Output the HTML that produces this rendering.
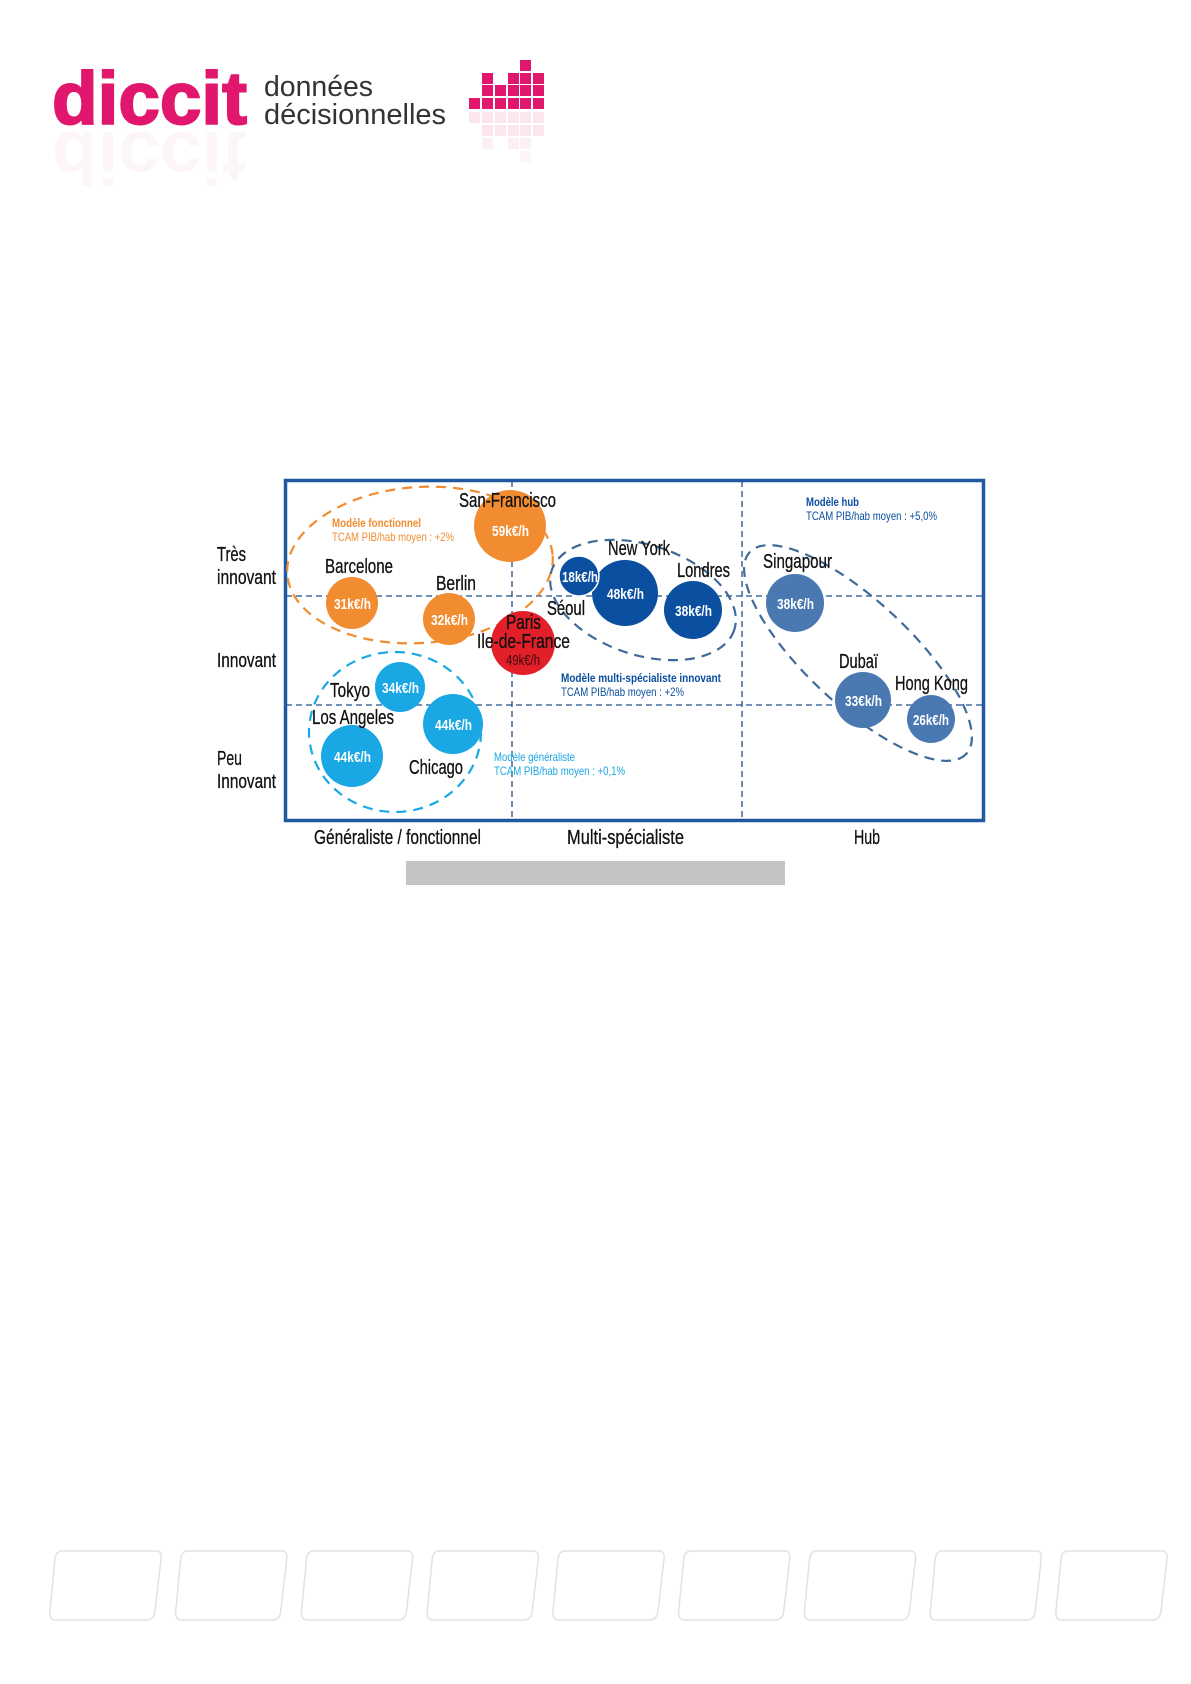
<!DOCTYPE html>
<html><head><meta charset="utf-8"><style>
html,body{margin:0;padding:0;background:#fff}
svg{display:block}
text{font-family:"Liberation Sans",sans-serif}
</style></head><body>
<svg width="1191" height="1684" viewBox="0 0 1191 1684" xmlns="http://www.w3.org/2000/svg">
<rect width="1191" height="1684" fill="#fff"/>
<!-- logo -->
<text x="52" y="124" font-weight="bold" font-size="74" fill="#e0176d" textLength="195" lengthAdjust="spacingAndGlyphs" stroke="#e0176d" stroke-width="2">diccit</text>
<text x="52" y="124" font-weight="bold" font-size="74" fill="#e0176d" opacity="0.03" transform="translate(0,256) scale(1,-1)" textLength="195" lengthAdjust="spacingAndGlyphs">diccit</text>
<text x="264" y="96" font-size="29" fill="#333" textLength="109" lengthAdjust="spacingAndGlyphs">données</text>
<text x="264" y="124" font-size="29" fill="#333" textLength="182" lengthAdjust="spacingAndGlyphs">décisionnelles</text>
<g fill="#e0176d">
<rect x="520" y="60" width="11" height="11"/>
<rect x="482" y="73" width="11" height="11"/><rect x="508" y="73" width="11" height="11"/><rect x="520" y="73" width="11" height="11"/><rect x="533" y="73" width="11" height="11"/>
<rect x="482" y="85" width="11" height="11"/><rect x="495" y="85" width="11" height="11"/><rect x="508" y="85" width="11" height="11"/><rect x="520" y="85" width="11" height="11"/><rect x="533" y="85" width="11" height="11"/>
<rect x="469" y="98" width="11" height="11"/><rect x="482" y="98" width="11" height="11"/><rect x="495" y="98" width="11" height="11"/><rect x="508" y="98" width="11" height="11"/><rect x="520" y="98" width="11" height="11"/><rect x="533" y="98" width="11" height="11"/>
</g>
<g fill="#e0176d" opacity="0.1">
<rect x="469" y="112" width="11" height="11"/><rect x="482" y="112" width="11" height="11"/><rect x="495" y="112" width="11" height="11"/><rect x="508" y="112" width="11" height="11"/><rect x="520" y="112" width="11" height="11"/><rect x="533" y="112" width="11" height="11"/>
<rect x="482" y="125" width="11" height="11"/><rect x="495" y="125" width="11" height="11"/><rect x="508" y="125" width="11" height="11"/><rect x="520" y="125" width="11" height="11"/><rect x="533" y="125" width="11" height="11"/>
<rect x="482" y="138" width="11" height="11" opacity="0.6"/><rect x="508" y="138" width="11" height="11" opacity="0.6"/><rect x="520" y="138" width="11" height="11" opacity="0.6"/><rect x="520" y="151" width="11" height="11" opacity="0.4"/>
</g>

<!-- chart grid -->
<g stroke="#1f4f8a" stroke-width="1.3" stroke-dasharray="6,4" fill="none">
<line x1="512" y1="481" x2="512" y2="820"/>
<line x1="742" y1="481" x2="742" y2="820"/>
<line x1="286" y1="596" x2="983" y2="596"/>
<line x1="286" y1="705" x2="983" y2="705"/>
</g>
<rect x="285.5" y="480.5" width="698" height="340" fill="none" stroke="#1f5aa0" stroke-width="3.5"/>

<!-- ellipses -->
<g fill="none" stroke-width="2.2" stroke-dasharray="10,7">
<ellipse cx="420" cy="565" rx="133" ry="78" transform="rotate(-4 420 565)" stroke="#f28c30"/>
<ellipse cx="395" cy="732" rx="86" ry="80" stroke="#1aa8e4"/>
<ellipse cx="643" cy="600" rx="96" ry="55" transform="rotate(18 643 600)" stroke="#3f6a99"/>
<ellipse cx="858" cy="653" rx="148" ry="52" transform="rotate(43 858 653)" stroke="#3f6a99"/>
</g>

<!-- circles -->
<circle cx="510" cy="526" r="36" fill="#f28c30"/>
<circle cx="352" cy="603" r="26" fill="#f28c30"/>
<circle cx="449" cy="619" r="26" fill="#f28c30"/>
<circle cx="523" cy="643" r="32" fill="#e3202a"/>
<circle cx="400" cy="687" r="25" fill="#1aa8e4"/>
<circle cx="453" cy="724" r="30" fill="#1aa8e4"/>
<circle cx="352" cy="756" r="31" fill="#1aa8e4"/>
<circle cx="625" cy="593" r="33" fill="#0b4fa0"/>
<circle cx="579" cy="576" r="20" fill="#0b4fa0" stroke="#fff" stroke-width="1.5"/>
<circle cx="693" cy="610" r="29" fill="#0b4fa0"/>
<circle cx="795" cy="603" r="29" fill="#4a78b0"/>
<circle cx="863" cy="700" r="28" fill="#4a78b0"/>
<circle cx="931" cy="719" r="24" fill="#4a78b0"/>

<!-- values -->
<g fill="#fff" font-size="15" font-weight="bold">
<text x="492" y="536" textLength="37" lengthAdjust="spacingAndGlyphs">59k€/h</text>
<text x="334" y="609" textLength="37" lengthAdjust="spacingAndGlyphs">31k€/h</text>
<text x="431" y="625" textLength="37" lengthAdjust="spacingAndGlyphs">32k€/h</text>
<text x="382" y="693" textLength="37" lengthAdjust="spacingAndGlyphs">34k€/h</text>
<text x="435" y="730" textLength="37" lengthAdjust="spacingAndGlyphs">44k€/h</text>
<text x="334" y="762" textLength="37" lengthAdjust="spacingAndGlyphs">44k€/h</text>
<text x="607" y="599" textLength="37" lengthAdjust="spacingAndGlyphs">48k€/h</text>
<text x="562" y="582" textLength="36" lengthAdjust="spacingAndGlyphs">18k€/h</text>
<text x="675" y="616" textLength="37" lengthAdjust="spacingAndGlyphs">38k€/h</text>
<text x="777" y="609" textLength="37" lengthAdjust="spacingAndGlyphs">38k€/h</text>
<text x="845" y="706" textLength="37" lengthAdjust="spacingAndGlyphs">33€k/h</text>
<text x="913" y="725" textLength="36" lengthAdjust="spacingAndGlyphs">26k€/h</text>
</g>
<text x="506" y="665" fill="#3a0a0a" font-size="15" textLength="34" lengthAdjust="spacingAndGlyphs">49k€/h</text>

<!-- names -->
<g fill="#111" font-size="20" stroke="#111" stroke-width="0.3">
<text x="459" y="507" textLength="97" lengthAdjust="spacingAndGlyphs">San-Francisco</text>
<text x="325" y="573" textLength="68" lengthAdjust="spacingAndGlyphs">Barcelone</text>
<text x="436" y="590" textLength="40" lengthAdjust="spacingAndGlyphs">Berlin</text>
<text x="506" y="629" textLength="35" lengthAdjust="spacingAndGlyphs">Paris</text>
<text x="477" y="648" textLength="93" lengthAdjust="spacingAndGlyphs">Ile-de-France</text>
<text x="547" y="615" textLength="38" lengthAdjust="spacingAndGlyphs">Séoul</text>
<text x="330" y="697" textLength="40" lengthAdjust="spacingAndGlyphs">Tokyo</text>
<text x="312" y="724" textLength="82" lengthAdjust="spacingAndGlyphs">Los Angeles</text>
<text x="409" y="774" textLength="54" lengthAdjust="spacingAndGlyphs">Chicago</text>
<text x="608" y="555" textLength="62" lengthAdjust="spacingAndGlyphs">New York</text>
<text x="677" y="577" textLength="53" lengthAdjust="spacingAndGlyphs">Londres</text>
<text x="763" y="568" textLength="69" lengthAdjust="spacingAndGlyphs">Singapour</text>
<text x="839" y="668" textLength="39" lengthAdjust="spacingAndGlyphs">Dubaï</text>
<text x="895" y="690" textLength="73" lengthAdjust="spacingAndGlyphs">Hong Kong</text>
</g>

<!-- annotations -->
<g font-size="12">
<text x="332" y="527" fill="#f28c30" font-weight="bold" textLength="89" lengthAdjust="spacingAndGlyphs">Modèle fonctionnel</text>
<text x="332" y="541" fill="#f28c30" textLength="122" lengthAdjust="spacingAndGlyphs">TCAM PIB/hab moyen : +2%</text>
<text x="561" y="682" fill="#0b4fa0" font-weight="bold" textLength="160" lengthAdjust="spacingAndGlyphs">Modèle multi-spécialiste innovant</text>
<text x="561" y="696" fill="#0b4fa0" textLength="123" lengthAdjust="spacingAndGlyphs">TCAM PIB/hab moyen : +2%</text>
<text x="494" y="761" fill="#1aa8e4" textLength="81" lengthAdjust="spacingAndGlyphs">Modèle généraliste</text>
<text x="494" y="775" fill="#1aa8e4" textLength="131" lengthAdjust="spacingAndGlyphs">TCAM PIB/hab moyen : +0,1%</text>
<text x="806" y="506" fill="#0b4fa0" font-weight="bold" textLength="53" lengthAdjust="spacingAndGlyphs">Modèle hub</text>
<text x="806" y="520" fill="#0b4fa0" textLength="131" lengthAdjust="spacingAndGlyphs">TCAM PIB/hab moyen : +5,0%</text>
</g>

<!-- axis labels -->
<g fill="#111" font-size="20" stroke="#111" stroke-width="0.3">
<text x="217" y="561" textLength="29" lengthAdjust="spacingAndGlyphs">Très</text>
<text x="217" y="584" textLength="59" lengthAdjust="spacingAndGlyphs">innovant</text>
<text x="217" y="667" textLength="59" lengthAdjust="spacingAndGlyphs">Innovant</text>
<text x="217" y="765" textLength="25" lengthAdjust="spacingAndGlyphs">Peu</text>
<text x="217" y="788" textLength="59" lengthAdjust="spacingAndGlyphs">Innovant</text>
<text x="314" y="844" textLength="167" lengthAdjust="spacingAndGlyphs">Généraliste / fonctionnel</text>
<text x="567" y="844" textLength="117" lengthAdjust="spacingAndGlyphs">Multi-spécialiste</text>
<text x="854" y="844" textLength="26" lengthAdjust="spacingAndGlyphs">Hub</text>
</g>
<rect x="406" y="861" width="379" height="24" fill="#c4c4c4"/>

<!-- bottom cards -->
<g fill="none" stroke="#e2e2e2" stroke-width="1.5" transform="translate(0,-11)">
<path id="c" d="M62 1562 H156 Q162 1562 161 1570 L155 1622 Q154 1631 146 1631 H56 Q49 1631 50 1622 L55 1570 Q56 1562 62 1562 Z"/>
<use href="#c" x="125.75"/><use href="#c" x="251.5"/><use href="#c" x="377.25"/><use href="#c" x="503"/><use href="#c" x="628.75"/><use href="#c" x="754.5"/><use href="#c" x="880.25"/><use href="#c" x="1006"/>
</g>
</svg>
</body></html>
